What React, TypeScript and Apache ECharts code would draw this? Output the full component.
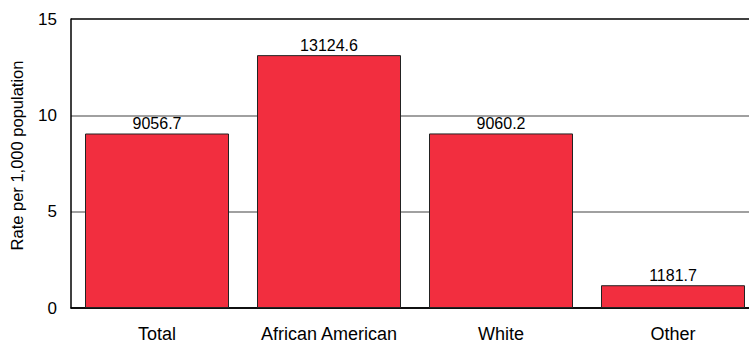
import React, { useEffect, useRef } from "react";
import * as echarts from "echarts";

const categories = ["Total", "African American", "White", "Other"];
const rates = [9.0567, 13.1246, 9.0602, 1.1817];
const valueLabels = ["9056.7", "13124.6", "9060.2", "1181.7"];
const yTicks = [0, 5, 10, 15];

const FONT = "Liberation Sans";

export default function App() {
  const ref = useRef<HTMLDivElement>(null);
  useEffect(() => {
    if (!ref.current) return;
    const chart = echarts.init(ref.current, null, { renderer: "svg" });
    chart.setOption({
      animation: false,
      grid: { left: 71, top: 19, width: 688, height: 291, containLabel: false },
      xAxis: {
        type: "category",
        data: categories,
        axisLine: { lineStyle: { color: "#000", width: 1.5 } },
        axisTick: { show: false },
        axisLabel: { color: "#000", fontSize: 18, fontFamily: FONT, margin: 17, interval: 0, hideOverlap: false },
      },
      yAxis: {
        type: "value",
        min: yTicks[0],
        max: yTicks[yTicks.length - 1],
        interval: 5,
        name: "Rate per 1,000 population",
        nameLocation: "middle",
        nameRotate: 90,
        nameGap: 46,
        nameTextStyle: { color: "#000", fontSize: 16.5, fontFamily: FONT, padding: [0, 0, 0, 16] },
        axisLine: { show: true, lineStyle: { color: "#000", width: 1.5 } },
        axisTick: { show: false },
        axisLabel: { color: "#000", fontSize: 17, fontFamily: FONT, margin: 14 },
        splitLine: { show: true, lineStyle: { color: ["#000", "#808080", "#808080", "#000"], width: 1.5 } },
      },
      series: [
        {
          type: "bar",
          data: rates,
          barWidth: 144,
          itemStyle: { color: "#F22E3F", borderColor: "#222", borderWidth: 1 },
          label: {
            show: true,
            position: "top",
            distance: 2,
            color: "#000",
            fontSize: 16,
            fontFamily: FONT,
            formatter: (p: any) => valueLabels[p.dataIndex],
          },
        },
      ],
    });
    return () => chart.dispose();
  }, []);
  return (
    <div style={{ position: "absolute", left: 0, top: 0, width: 749, height: 343, overflow: "hidden" }}>
      <div ref={ref} style={{ width: 760, height: 343 }} />
    </div>
  );
}
